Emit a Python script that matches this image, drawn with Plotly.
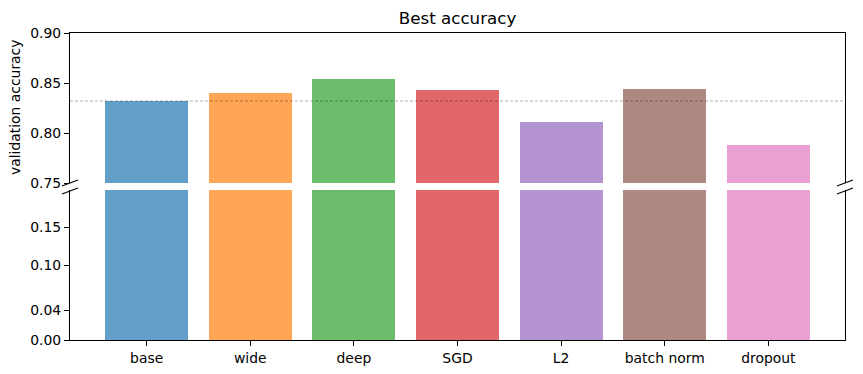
import plotly.graph_objects as go

categories = ["base", "wide", "deep", "SGD", "L2", "batch norm", "dropout"]
accuracy = [0.832, 0.840, 0.854, 0.843, 0.811, 0.844, 0.788]
colors = ["#1f77b4", "#ff7f0e", "#2ca02c", "#d62728", "#9467bd", "#8c564b", "#e377c2"]
top_ticks = [0.75, 0.80, 0.85, 0.90]
bottom_ticks = [0.00, 0.04, 0.10, 0.15]

W, H = 863, 374
L, R, T, B = 70, 845, 33, 340
pw, ph = R - L, B - T

def px(x):
    return (x - L) / pw

def py(y):
    return (B - y) / ph

FONT = "DejaVu Sans, sans-serif"
fig = go.Figure()
xs = list(range(len(categories)))
for ax in ["y", "y2"]:
    fig.add_trace(go.Bar(
        x=xs, y=accuracy, width=0.8,
        marker=dict(color=colors, opacity=0.7, line=dict(width=0)),
        xaxis="x" if ax == "y" else "x2", yaxis=ax,
        showlegend=False, hoverinfo="skip",
    ))

xr = [-0.74, len(categories) - 1 + 0.74]
fig.update_layout(
    width=W, height=H,
    margin=dict(l=L, r=W - R, t=T, b=H - B, autoexpand=False),
    plot_bgcolor="white", paper_bgcolor="white",
    font=dict(family=FONT, size=13.9, color="black"),
    bargap=0,
    title=dict(text="Best accuracy", x=0.5, xref="paper", xanchor="center",
               y=1 - 18 / H, yref="container", yanchor="middle",
               font=dict(size=16.7, family=FONT)),
    xaxis=dict(domain=[0, 1], range=xr, tickvals=xs, ticktext=categories,
               showline=True, linecolor="black", linewidth=1, ticks="outside",
               ticklen=5, tickcolor="black", showgrid=False, zeroline=False,
               anchor="y"),
    xaxis2=dict(domain=[0, 1], range=xr, showticklabels=False, ticks="",
                showline=True, linecolor="black", linewidth=1, side="top",
                showgrid=False, zeroline=False, anchor="y2", matches="x"),
    yaxis=dict(domain=[0, py(190)], range=[0, 0.2], tickvals=bottom_ticks,
               tickformat=".2f", showline=True, mirror=True, linecolor="black",
               linewidth=1, ticks="outside", ticklen=5, tickcolor="black",
               showgrid=False, zeroline=False, anchor="x"),
    yaxis2=dict(domain=[py(183), 1], range=[0.75, 0.90], tickvals=top_ticks,
                tickformat=".2f", showline=True, mirror=True, linecolor="black",
                linewidth=1, ticks="outside", ticklen=5, tickcolor="black",
                showgrid=False, zeroline=False, anchor="x2"),
)

# reference line at base accuracy
fig.add_shape(type="line", xref="x2 domain", yref="y2", x0=0, x1=1,
              y0=accuracy[0], y1=accuracy[0],
              line=dict(color="rgba(0,0,0,0.45)", width=0.7, dash="3px,2px"))

# break marks
for xc in (L, R):
    for yc in (183, 191):
        fig.add_shape(type="line", xref="paper", yref="paper",
                      x0=px(xc - 8), x1=px(xc + 8), y0=py(yc + 3), y1=py(yc - 3),
                      line=dict(color="black", width=1.2))

fig.add_annotation(text="validation accuracy", xref="paper", yref="paper",
                   x=px(15), y=py(108), textangle=-90, showarrow=False,
                   xanchor="center", yanchor="middle", font=dict(size=13.9, family=FONT))

fig.write_html(
    "out.html",
    config={"displayModeBar": False},
    post_script="document.body.style.margin='0';document.body.style.overflow='hidden';",
)
